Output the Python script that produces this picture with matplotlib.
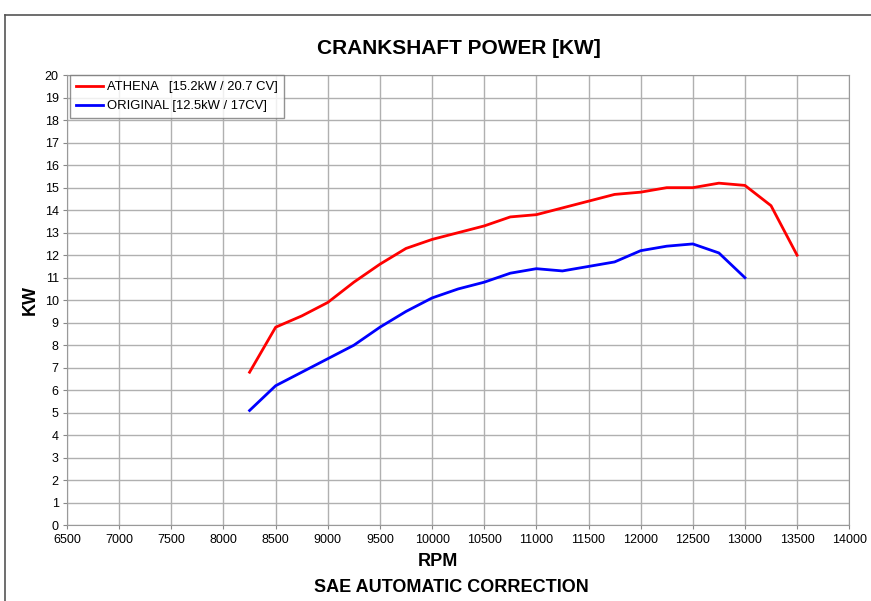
import matplotlib.pyplot as plt
from matplotlib.lines import Line2D

plt.rcParams['font.family'] = ['Liberation Sans', 'DejaVu Sans']

# data
rpm_athena = [8250, 8500, 8750, 9000, 9250, 9500, 9750, 10000, 10250, 10500, 10750,
              11000, 11250, 11500, 11750, 12000, 12250, 12500, 12750, 13000, 13250, 13500]
kw_athena = [6.8, 8.8, 9.3, 9.9, 10.8, 11.6, 12.3, 12.7, 13.0, 13.3, 13.7,
             13.8, 14.1, 14.4, 14.7, 14.8, 15.0, 15.0, 15.2, 15.1, 14.2, 12.0]
rpm_orig = [8250, 8500, 8750, 9000, 9250, 9500, 9750, 10000, 10250, 10500, 10750,
            11000, 11250, 11500, 11750, 12000, 12250, 12500, 12750, 13000]
kw_orig = [5.1, 6.2, 6.8, 7.4, 8.0, 8.8, 9.5, 10.1, 10.5, 10.8, 11.2,
           11.4, 11.3, 11.5, 11.7, 12.2, 12.4, 12.5, 12.1, 11.0]
x_ticks = list(range(6500, 14001, 500))
y_ticks = list(range(0, 21))

fig = plt.figure(figsize=(8.71, 6.01), dpi=100)
ax = fig.add_axes([0.077, 0.126, 0.898, 0.749])

# outer frame of the sheet
fig.add_artist(Line2D([5/871, 1], [1 - 15/601, 1 - 15/601], color='#555555', lw=1.2))
fig.add_artist(Line2D([5/871, 5/871], [0, 1 - 15/601], color='#555555', lw=1.2))

ax.plot(rpm_athena, kw_athena, color='#ff0000', lw=2, label='ATHENA   [15.2kW / 20.7 CV]')
ax.plot(rpm_orig, kw_orig, color='#0000ff', lw=2, label='ORIGINAL [12.5kW / 17CV]')

ax.set_xlim(6500, 14000)
ax.set_ylim(0, 20)
ax.set_xticks(x_ticks)
ax.set_yticks(y_ticks)
ax.tick_params(labelsize=9, length=3, color='#888888', pad=3)
ax.grid(True, color='#b0b0b0', lw=1)
ax.set_axisbelow(True)
for s in ax.spines.values():
    s.set_color('#999999')

fig.text(459/871, 1 - 48/601, 'CRANKSHAFT POWER [KW]', fontsize=15, fontweight='bold',
         ha='center', va='center')
ax.set_ylabel('KW', fontsize=13, fontweight='bold', labelpad=4)
fig.text(438/871, 1 - 562/601, 'RPM', fontsize=13, fontweight='bold',
         ha='center', va='center')
fig.text(451/871, 1 - 587/601, 'SAE AUTOMATIC CORRECTION', fontsize=13, fontweight='bold',
         ha='center', va='center')

leg = ax.legend(loc='upper left', bbox_to_anchor=(0.004, 1.0), fontsize=9.4, frameon=True,
                fancybox=False, borderaxespad=0, handlelength=2.1, handletextpad=0.3,
                labelspacing=0.55, borderpad=0.45)
leg.get_frame().set_edgecolor('#777777')
leg.get_frame().set_linewidth(1)

fig.savefig('out.png', dpi=100)
